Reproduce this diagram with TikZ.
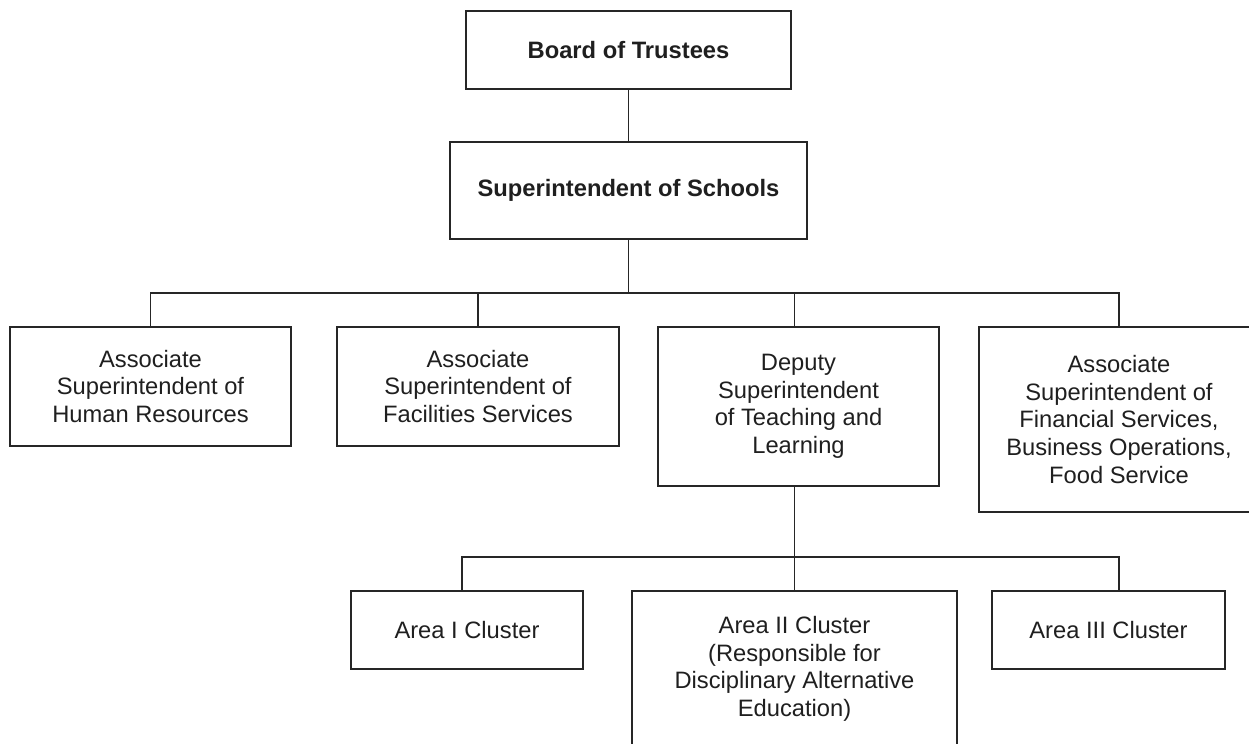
\documentclass[tikz,border=0pt]{standalone}
\usepackage{fontspec}
\setmainfont{Liberation Sans}
\begin{document}
\begin{tikzpicture}[x=0.02cm,y=-0.02cm,
  orgbox/.style={draw=black!85,line width=0.8pt,rectangle,inner sep=0pt,align=center,
    text=black!88,font=\fontsize{13.5}{15.7}\selectfont},
  titlebox/.style={orgbox,font=\fontsize{13.5}{15.7}\selectfont\bfseries},
  link/.style={draw=black!85,line width=0.8pt}]
\useasboundingbox (0,0) rectangle (1249,744);
\clip (0,0) rectangle (1249,744);
\node[titlebox,minimum width=6.5cm,minimum height=1.56cm] (board) at (628.5,50) {Board of Trustees};
\node[titlebox,minimum width=7.14cm,minimum height=1.94cm] (sup) at (628.5,190.5) {Superintendent of Schools};
\node[orgbox,minimum width=5.62cm,minimum height=2.38cm] (hr) at (150.5,386.5) {Associate\\Superintendent of\\Human Resources};
\node[orgbox,minimum width=5.64cm,minimum height=2.38cm] (fac) at (478,386.5) {Associate\\Superintendent of\\Facilities Services};
\node[orgbox,minimum width=5.62cm,minimum height=3.18cm] (dep) at (798.5,406.5) {Deputy\\Superintendent\\of Teaching and\\Learning};
\node[orgbox,minimum width=5.6cm,minimum height=3.7cm] (fin) at (1119,419.5) {Associate\\Superintendent of\\Financial Services,\\Business Operations,\\Food Service};
\node[orgbox,minimum width=4.64cm,minimum height=1.56cm] (a1) at (467,630) {Area I Cluster};
\node[orgbox,minimum width=6.5cm,minimum height=3.12cm] (a2) at (794.5,669) {Area II Cluster\\(Responsible for\\Disciplinary Alternative\\Education)};
\node[orgbox,minimum width=4.66cm,minimum height=1.56cm] (a3) at (1108.5,630) {Area III Cluster};
\coordinate (bus1) at (628.5,293);
\coordinate (bus2) at (794.5,557);
\coordinate (c1) at (462,591);
\path[link] (board) -- (sup);
\path[link] (sup.south) -- (bus1);
\path[link] (hr.north) |- (bus1) -| (fin.north);
\path[link] (fac.north) -- (fac.north |- bus1);
\path[link] (dep.north -| a2.north) -- (a2.north |- bus1);
\path[link] (dep.south -| a2.north) -- (a2.north);
\path[link] (c1) |- (bus2) -| (a3.north -| fin.south);
\end{tikzpicture}
\end{document}
